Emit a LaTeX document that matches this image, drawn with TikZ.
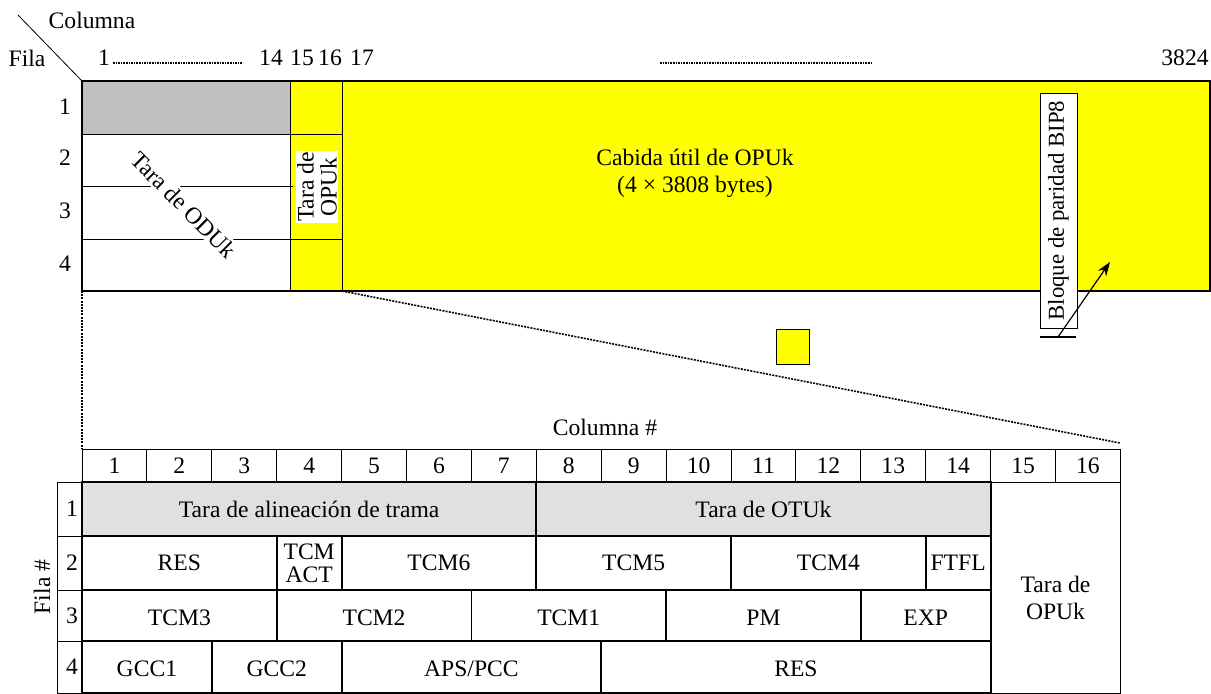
\documentclass[tikz,border=0pt]{standalone}
\usepackage{fontspec}
\setmainfont{Liberation Serif}
\usetikzlibrary{arrows.meta,positioning}
\definecolor{opuyellow}{RGB}{255,255,0}
\definecolor{hdrgray}{RGB}{192,192,192}
\definecolor{fasgray}{RGB}{224,224,224}
\def\colw{64.9}

\begin{document}
\begin{tikzpicture}[x=0.5pt,y=-0.5pt,
    lbl/.style={font=\fontsize{11.8}{11.5}\selectfont, inner sep=1pt},
    cell/.style={draw, line width=0.9pt},
    hdr/.style={draw, line width=0.5pt},
    leader/.style={dash pattern=on 0.8pt off 0.5pt, line width=0.6pt},
    zoomline/.style={dash pattern=on 1pt off 0.6pt, line width=0.8pt}]
\useasboundingbox (0,0) rectangle (1211,693);

% Column / row heading of the frame
\draw (18,15) -- (82,81);
\node[lbl] (columna) at (92,20) {Columna};
\node[lbl] (fila) at (27,58) {Fila};
\node[lbl] (c1) at (104,58) {1};
\node[lbl] (c14) at (271,58) {14};
\node[lbl] (c15) at (302,58) {15};
\node[lbl] (c16) at (330,58) {16};
\node[lbl] (c17) at (362,58) {17};
\node[lbl] (c3824) at (1185,58) {3824};
\coordinate (dota) at (113,63);
\coordinate (dotb) at (243,63);
\coordinate (dotc) at (660,63);
\coordinate (dotd) at (872,63);
\draw[leader] (dota) -- (dotb);
\draw[leader] (dotc) -- (dotd);

% Draw frame
\fill[hdrgray] (82,81) rectangle (290,134);
\fill[opuyellow] (290,81) rectangle (1210,291);
\draw[line width=0.7pt] (82,81) rectangle (1210,291);
\draw (82,134) -- (342,134);
\draw (290,81) -- (290,291);
\draw (342,81) -- (342,291);
\draw (82,186) -- (293,186);
\draw (82,239) -- (342,239);
\foreach \r/\y in {1/107, 2/158, 3/211, 4/264}
    \node[lbl] (row\r) at (65,\y) {\r};
\node[lbl, rotate=-45, fill=white] (oduk) at (184,205) {Tara de ODUk};
\node[lbl, rotate=90, fill=white, align=center, inner sep=0.5pt] (opuk) at (317,187) {Tara de\\OPUk};
\node[lbl, align=center, font=\fontsize{11.8}{13.5}\selectfont] (payload) at (695,173) {Cabida útil de OPUk\\(4 × 3808 bytes)};

% Parity block
\node[lbl, draw, fill=white, rotate=90, font=\fontsize{11.4}{11}\selectfont, minimum width=117.5pt, minimum height=18.5pt] (bip) at (1058.5,210.5) {Bloque de paridad BIP8};
\coordinate (bipl) at (1040,337);
\coordinate (bipr) at (1076,337);
\coordinate (bipfoot) at (1058,337);
\coordinate (biphead) at (1110,262);
\draw[line width=0.7pt] (bipl) -- (bipr);
\draw[line width=0.6pt, -{Stealth[length=7pt, width=5pt]}] (bipfoot) -- (biphead);

% Zoom lines
\draw[fill=opuyellow] (776,329) rectangle (809,364);
\coordinate (za) at (342,291);
\coordinate (zb) at (1120,443);
\coordinate (zc) at (82,291);
\coordinate (zd) at (82,449);
\draw[zoomline] (za) -- (zb);
\draw[zoomline] (zc) -- (zd);

% Overhead table
\node[lbl] (colhash) at (605,427) {Columna \#};
\node[lbl, rotate=90] (filahash) at (42,587) {Fila \#};
\foreach \i in {1,...,16} {
    \draw[hdr] ({82+(\i-1)*\colw},449) rectangle ({82+\i*\colw},482);
    \node[lbl] (h\i) at ({82+(\i-0.5)*\colw},466) {\i};
}
\foreach \r/\ya/\yb in {1/482/536, 2/536/590, 3/590/641, 4/641/693} {
    \draw[hdr] (57,\ya) rectangle (82,\yb);
    \node[lbl] (f\r) at (72,{(\ya+\yb)/2}) {\r};
}
\foreach \a/\b/\t [count=\k] in {1/7/Tara de alineación de trama, 8/14/Tara de OTUk} {
    \draw[cell, fill=fasgray] ({82+(\a-1)*\colw},482) rectangle ({82+\b*\colw},536);
    \node[lbl] (ra\k) at ({82+(\a+\b-1)/2*\colw},509) {\t};
}
\foreach \a/\b/\t [count=\k] in {1/3/RES, 4/4/{TCM\\ACT}, 5/7/TCM6, 8/10/TCM5, 11/13/TCM4, 14/14/FTFL} {
    \draw[cell] ({82+(\a-1)*\colw},536) rectangle ({82+\b*\colw},590);
    \node[lbl, align=center] (rb\k) at ({82+(\a+\b-1)/2*\colw},563) {\t};
}
\foreach \a/\b/\t [count=\k] in {1/3/TCM3, 4/6/TCM2, 7/9/TCM1, 10/12/PM, 13/14/EXP} {
    \draw[cell] ({82+(\a-1)*\colw},590) rectangle ({82+\b*\colw},641);
    \node[lbl] (rc\k) at ({82+(\a+\b-1)/2*\colw},618) {\t};
}
\foreach \a/\b/\t [count=\k] in {1/2/GCC1, 3/4/GCC2, 5/8/{APS/PCC}, 9/14/RES} {
    \draw[cell] ({82+(\a-1)*\colw},641) rectangle ({82+\b*\colw},693);
    \node[lbl] (rd\k) at ({82+(\a+\b-1)/2*\colw},669) {\t};
}
\draw[hdr] ({82+14*\colw},482) rectangle ({82+16*\colw},693);
\node[lbl, align=center, font=\fontsize{11.8}{13.5}\selectfont] (opubody) at ({82+15*\colw},598) {Tara de\\OPUk};
\end{tikzpicture}
\end{document}
